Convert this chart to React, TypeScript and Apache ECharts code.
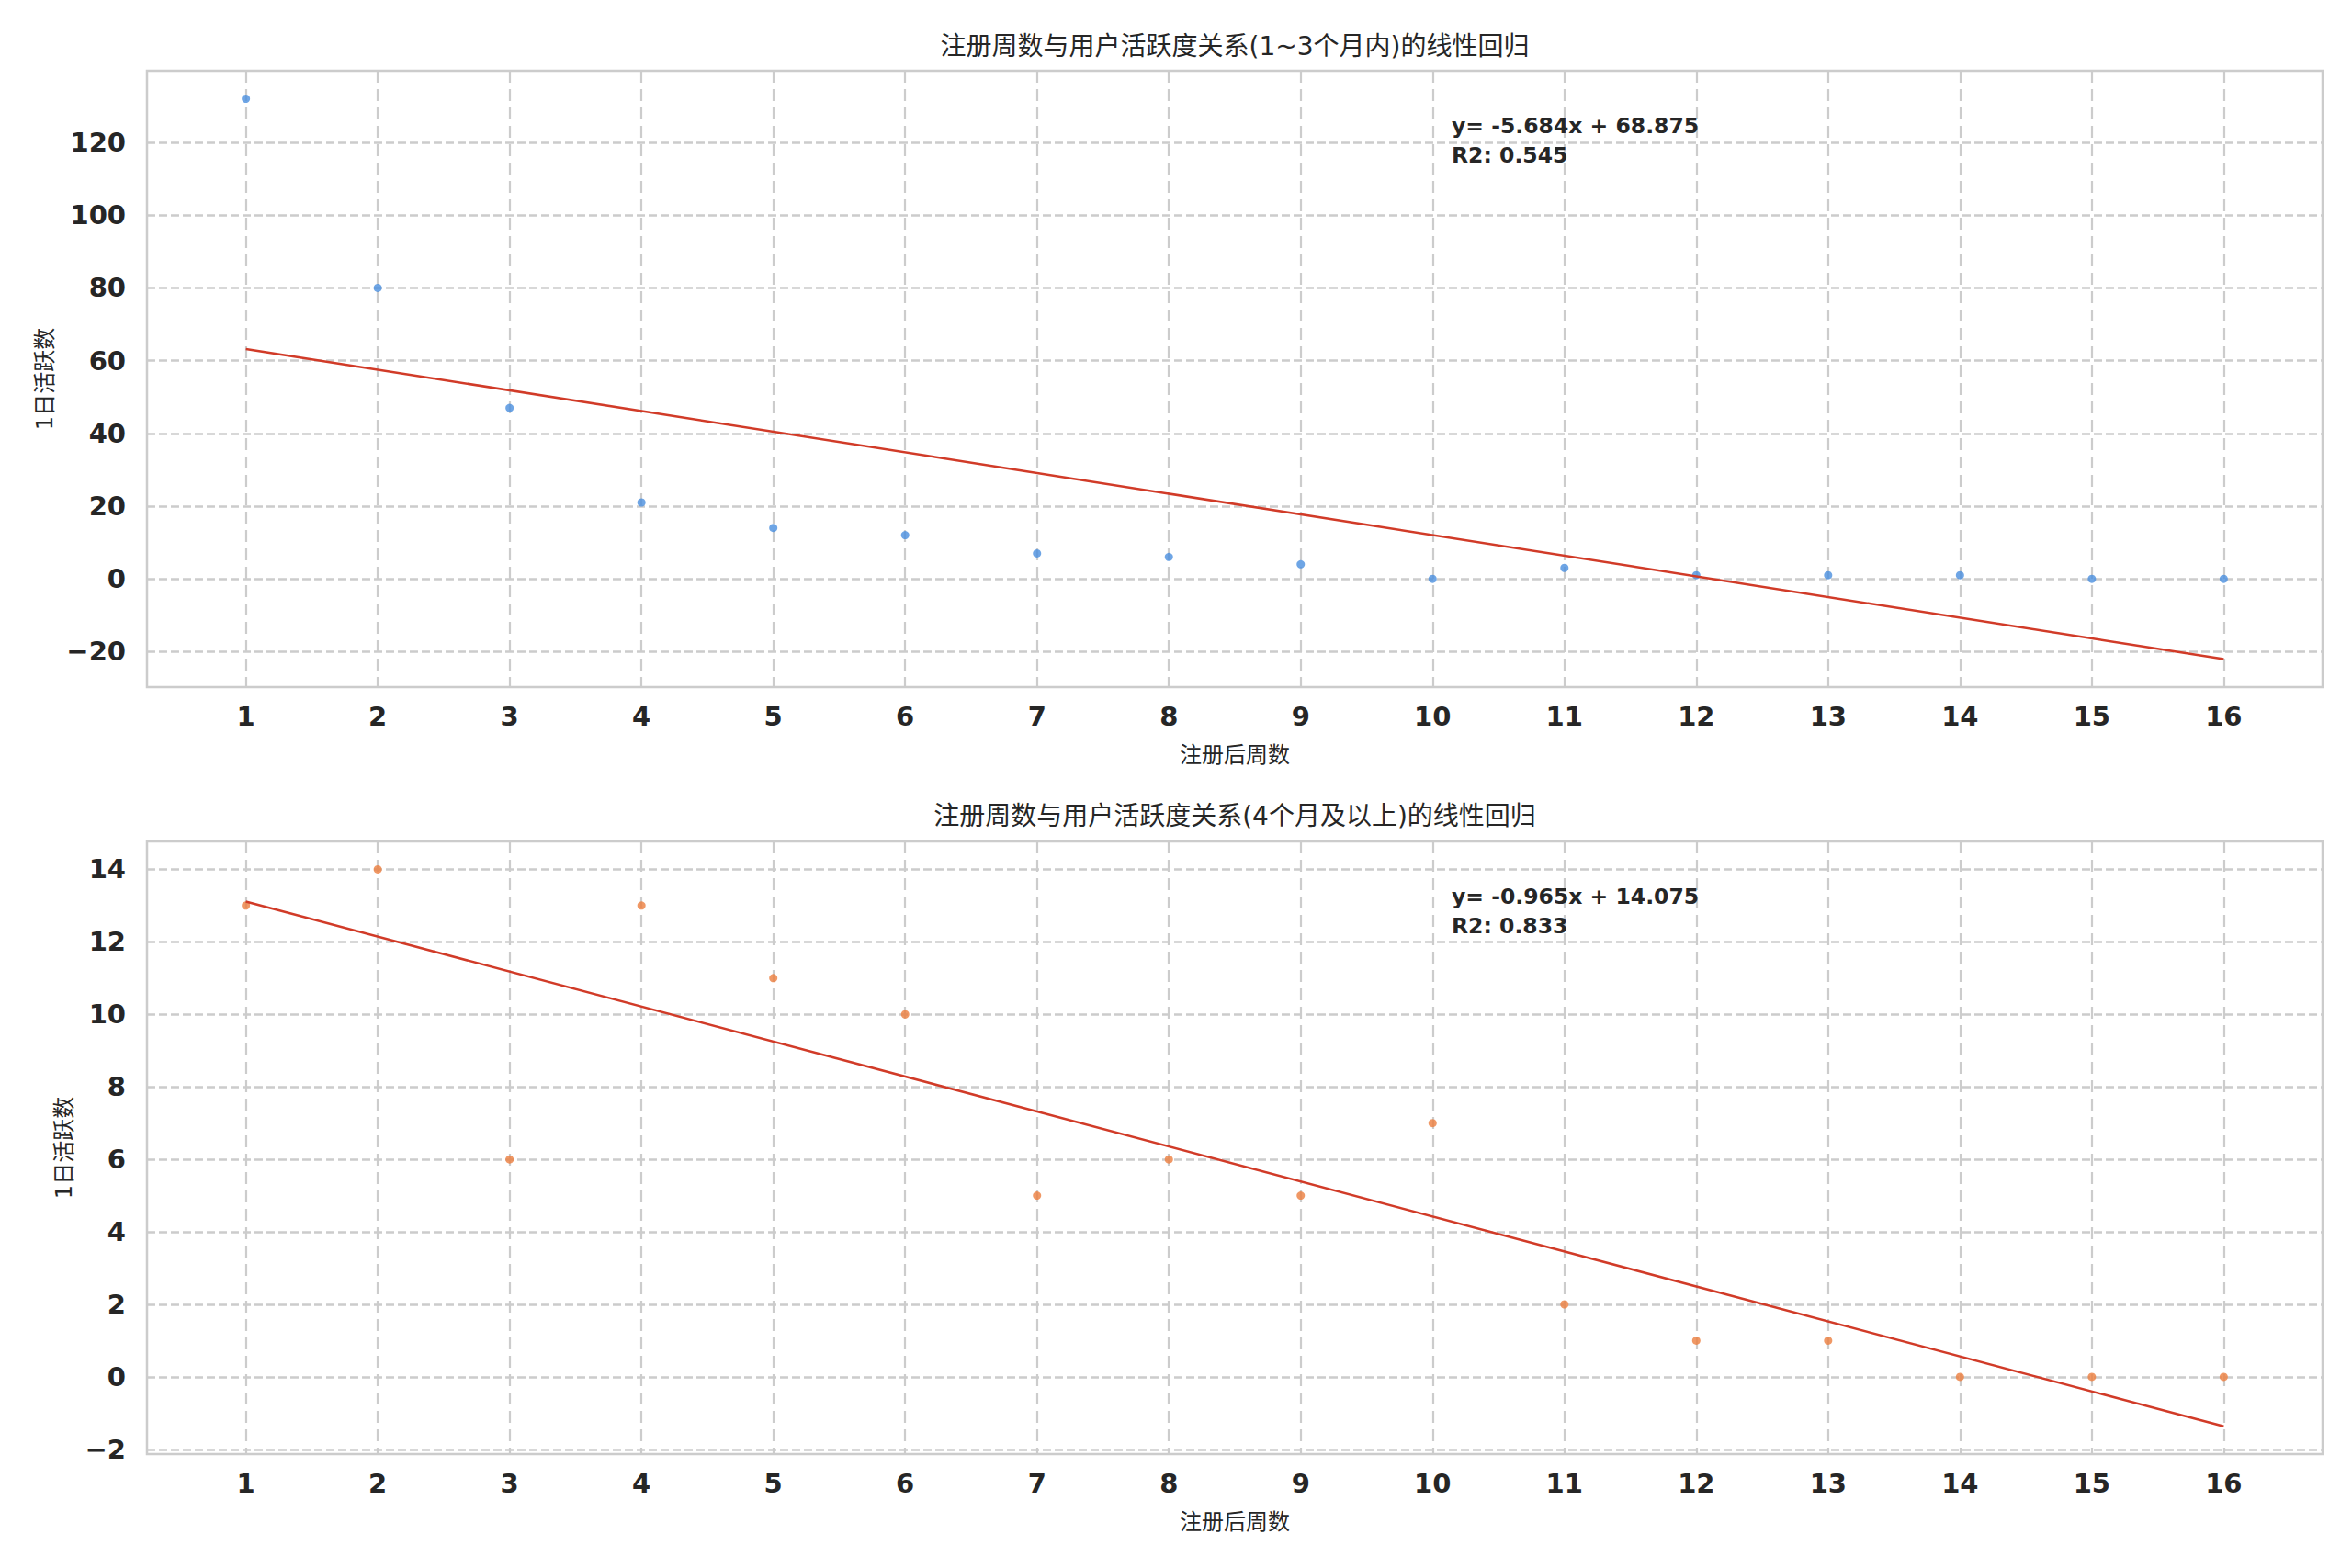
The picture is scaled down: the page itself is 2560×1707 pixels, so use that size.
import React, { useEffect, useRef } from "react";
import * as echarts from "echarts";

// ---- data ----
const weeks = [1, 2, 3, 4, 5, 6, 7, 8, 9, 10, 11, 12, 13, 14, 15, 16];
const valuesShort = [132, 80, 47, 21, 14, 12, 7, 6, 4, 0, 3, 1, 1, 1, 0, 0];
const valuesLong = [13, 14, 6, 13, 11, 10, 5, 6, 5, 7, 2, 1, 1, 0, 0, 0];
const slopes = [-5.684, -0.965];
const intercepts = [68.875, 14.075];
const r2Values = [0.545, 0.833];
const xTicks = [1, 2, 3, 4, 5, 6, 7, 8, 9, 10, 11, 12, 13, 14, 15, 16];
const yTicksTop = [-20, 0, 20, 40, 60, 80, 100, 120];
const yTicksBottom = [-2, 0, 2, 4, 6, 8, 10, 12, 14];
const titles = [
  "注册周数与用户活跃度关系(1~3个月内)的线性回归",
  "注册周数与用户活跃度关系(4个月及以上)的线性回归",
];
const xName = "注册后周数";
const yName = "1日活跃数";

const FONT = '"DejaVu Sans", "Noto Sans CJK SC", sans-serif';
const TEXT = "#262626";
const GRIDC = "#cccccc";

function fmt(v: number) {
  return v < 0 ? "\u2212" + Math.abs(v) : String(v);
}

export default function App() {
  const ref = useRef<HTMLDivElement>(null);
  useEffect(() => {
    document.body.style.margin = "0";
    const chart = echarts.init(ref.current!, undefined, { renderer: "svg" });

    const grids = [
      { left: 160, top: 77, width: 2368, height: 671 },
      { left: 160, top: 916, width: 2368, height: 667 },
    ];
    const yRanges = [
      [-29.77, 139.7],
      [-2.13, 14.77],
    ];
    const yTickSets = [yTicksTop, yTicksBottom];
    const yNameGaps = [96, 76];
    const pointColors = ["#4a8fdf", "#ec7e3e"];
    const seriesValues = [valuesShort, valuesLong];

    const xAxes = grids.map((_, i) => ({
      type: "value",
      gridIndex: i,
      min: 0.25,
      max: 16.75,
      name: xName,
      nameLocation: "middle",
      nameGap: 62,
      nameTextStyle: { fontFamily: FONT, fontSize: 24, color: TEXT },
      axisLine: { show: false },
      axisTick: { show: false, customValues: xTicks },
      axisLabel: {
        customValues: xTicks,
        fontFamily: FONT,
        fontSize: 29,
        fontWeight: "bold",
        color: TEXT,
        margin: 17,
      },
      splitLine: {
        show: true,
        lineStyle: { color: GRIDC, width: 2.2, type: [13, 7] },
      },
    }));

    const yAxes = grids.map((_, i) => ({
      type: "value",
      gridIndex: i,
      min: yRanges[i][0],
      max: yRanges[i][1],
      name: yName,
      nameLocation: "middle",
      nameRotate: 90,
      nameGap: yNameGaps[i],
      nameTextStyle: { fontFamily: FONT, fontSize: 24, color: TEXT },
      axisLine: { show: false },
      axisTick: { show: false, customValues: yTickSets[i] },
      axisLabel: {
        customValues: yTickSets[i],
        formatter: (v: number) => fmt(v),
        fontFamily: FONT,
        fontSize: 29,
        fontWeight: "bold",
        color: TEXT,
        margin: 23,
      },
      splitLine: {
        show: true,
        lineStyle: { color: GRIDC, width: 2.5, type: [9, 4] },
      },
    }));

    const series: any[] = [];
    [0, 1].forEach((i) => {
      series.push({
        type: "scatter",
        xAxisIndex: i,
        yAxisIndex: i,
        data: weeks.map((w, k) => [w, seriesValues[i][k]]),
        symbolSize: 9,
        itemStyle: { color: pointColors[i] },
        z: 3,
      });
      const x0 = weeks[0];
      const x1 = weeks[weeks.length - 1];
      series.push({
        type: "line",
        xAxisIndex: i,
        yAxisIndex: i,
        data: [
          [x0, intercepts[i] + slopes[i] * x0],
          [x1, intercepts[i] + slopes[i] * x1],
        ],
        showSymbol: false,
        symbol: "none",
        lineStyle: { color: "#d13b28", width: 2.5 },
        z: 4,
      });
    });

    const graphic: any[] = [];
    const titleY = [50, 888];
    const annY = [137, 976];
    [0, 1].forEach((i) => {
      graphic.push({
        type: "text",
        x: 1344,
        y: titleY[i],
        style: {
          text: titles[i],
          fontFamily: FONT,
          fontSize: 28,
          fill: TEXT,
          textAlign: "center",
          textVerticalAlign: "middle",
        },
      });
      const s = slopes[i].toFixed(3);
      graphic.push({
        type: "text",
        x: 1580,
        y: annY[i],
        z: 10,
        style: {
          text: `y= ${s}x + ${intercepts[i].toFixed(3)}`,
          fontFamily: FONT,
          fontSize: 23.5,
          fontWeight: "bold",
          fill: TEXT,
          textAlign: "left",
          textVerticalAlign: "middle",
        },
      });
      graphic.push({
        type: "text",
        x: 1580,
        y: annY[i] + 32,
        z: 10,
        style: {
          text: `R2: ${r2Values[i].toFixed(3)}`,
          fontFamily: FONT,
          fontSize: 23.5,
          fontWeight: "bold",
          fill: TEXT,
          textAlign: "left",
          textVerticalAlign: "middle",
        },
      });
    });

    chart.setOption({
      animation: false,
      backgroundColor: "#ffffff",
      grid: grids.map((g) => ({
        ...g,
        show: true,
        borderColor: GRIDC,
        borderWidth: 2.5,
        backgroundColor: "#ffffff",
        containLabel: false,
      })),
      xAxis: xAxes,
      yAxis: yAxes,
      series,
      graphic,
    });
    return () => chart.dispose();
  }, []);
  return <div ref={ref} style={{ width: 2560, height: 1707 }} />;
}
